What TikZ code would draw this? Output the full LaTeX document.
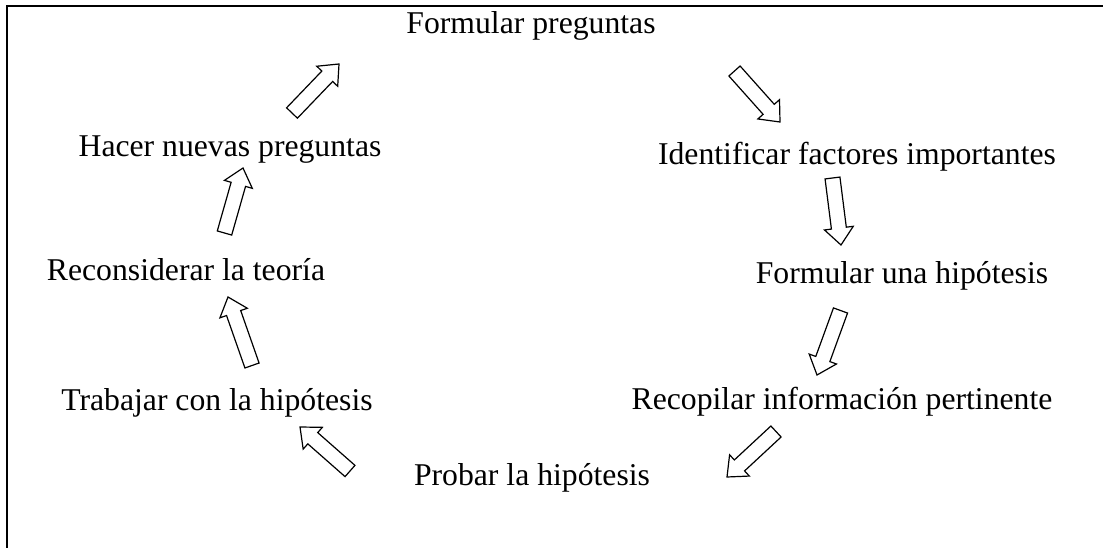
\documentclass[tikz,border=0pt]{standalone}
\usepackage{fontspec}
\setmainfont{Liberation Serif}
\usetikzlibrary{calc}
\tikzset{
        paso/.style = {anchor=base, inner sep=0pt,
            font=\fontsize{31.7}{38}\selectfont},
        flecha/.style = {draw=black, fill=white, line width=1.2pt,
            line join=miter},
        marco/.style = {draw=black, line width=2pt}
    }
% hollow block arrow from #1 (tail) to #2 (tip)
\newcommand{\bloque}[2]{%
    \draw[flecha] ($(#1)!7.5pt!90:(#2)$)
        -- ($(#2)!17pt!(#1)!7.5pt!-90:(#1)$)
        -- ($(#2)!17pt!(#1)!14.5pt!-90:(#1)$)
        -- (#2)
        -- ($(#2)!17pt!(#1)!14.5pt!90:(#1)$)
        -- ($(#2)!17pt!(#1)!7.5pt!90:(#1)$)
        -- ($(#1)!7.5pt!-90:(#2)$) -- cycle;}

\begin{document}
\begin{tikzpicture}[x=1pt,y=-1pt]
            \useasboundingbox (0,0) rectangle (1103,548);
            \draw[marco] (7,548) -- (7,6) -- (1103,6); % FRAME
            % steps
            \node [paso] (formular) at (531,34) {Formular preguntas};
            \node [paso] (identificar) at (857,165) {Identificar factores importantes};
            \node [paso] (hipotesis) at (902,283) {Formular una hipótesis};
            \node [paso] (recopilar) at (842,409) {Recopilar información pertinente};
            \node [paso] (probar) at (532,485) {Probar la hipótesis};
            \node [paso] (trabajar) at (217,410) {Trabajar con la hipótesis};
            \node [paso] (reconsiderar) at (186,280) {Reconsiderar la teoría};
            \node [paso] (hacer) at (230,157) {Hacer nuevas preguntas};
            % arrow ends
            \coordinate (f1a) at (292,113);   \coordinate (f1b) at (339,64);
            \coordinate (f2a) at (734.5,71);  \coordinate (f2b) at (780,122);
            \coordinate (f3a) at (832.5,178); \coordinate (f3b) at (841,245);
            \coordinate (f4a) at (840.5,310.5); \coordinate (f4b) at (817,375);
            \coordinate (f5a) at (776,431.5); \coordinate (f5b) at (727,477);
            \coordinate (f6a) at (350,471);   \coordinate (f6b) at (300,427);
            \coordinate (f7a) at (252,365.5); \coordinate (f7b) at (228,297);
            \coordinate (f8a) at (224.5,233); \coordinate (f8b) at (243,168);
            \bloque{f1a}{f1b}
            \bloque{f2a}{f2b}
            \bloque{f3a}{f3b}
            \bloque{f4a}{f4b}
            \bloque{f5a}{f5b}
            \bloque{f6a}{f6b}
            \bloque{f7a}{f7b}
            \bloque{f8a}{f8b}
        \end{tikzpicture}
\end{document}
